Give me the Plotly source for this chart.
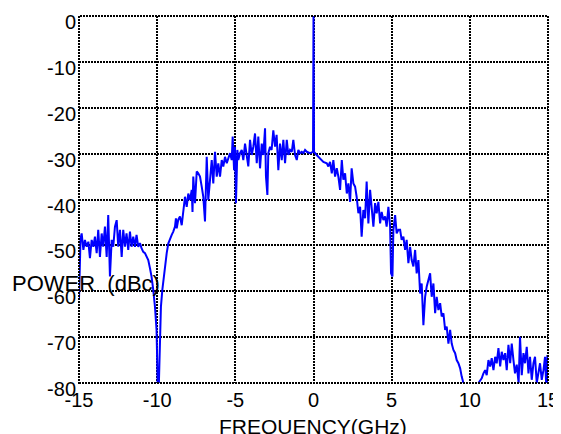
import plotly.graph_objects as go

freq = [
    -15.00, -14.97, -14.94, -14.90,
    -14.83, -14.72, -14.62, -14.51, -14.40, -14.30, -14.19, -14.08, -13.98, -13.87,
    -13.77, -13.66, -13.55, -13.45, -13.34, -13.23, -13.13, -13.02, -12.91, -12.81,
    -12.70, -12.59, -12.49, -12.38, -12.27, -12.17, -12.06, -11.96, -11.85, -11.74,
    -11.64, -11.53, -11.42, -11.32, -11.21, -11.10, -11.00, -10.89, -10.78, -10.68,
    -10.57, -10.46, -10.36, -10.25, -10.14, -10.04, -9.97, -9.89, -9.82, -9.76, -9.67,
    -9.60, -9.50, -9.39, -9.29, -9.18, -9.07, -8.97, -8.86, -8.80, -8.75, -8.65, -8.54,
    -8.43, -8.33, -8.22, -8.11, -8.01, -7.90, -7.79, -7.74, -7.69, -7.58, -7.47, -7.37,
    -7.26, -7.15, -7.05, -6.94, -6.83, -6.73, -6.62, -6.51, -6.41, -6.30, -6.19, -6.09,
    -5.98, -5.87, -5.77, -5.66, -5.55, -5.45, -5.34, -5.23, -5.17, -5.08, -5.02, -4.96,
    -4.87, -4.81, -4.70, -4.59, -4.49, -4.38, -4.27, -4.17, -4.06, -3.95, -3.85, -3.74,
    -3.63, -3.53, -3.42, -3.31, -3.21, -3.10, -3.04, -2.95, -2.89, -2.78, -2.68, -2.57,
    -2.46, -2.36, -2.25, -2.14, -2.03, -1.93, -1.82, -1.71, -1.61, -1.50, -1.39, -1.29,
    -1.18, -1.07, -0.97, -0.86, -0.75, -0.65, -0.54, -0.43, -0.22, -0.03, 0.00, 0.035,
    0.20, 0.42, 0.63, 0.85, 0.95, 1.06, 1.17, 1.27, 1.38, 1.49, 1.59, 1.70, 1.81, 1.91,
    2.02, 2.13, 2.23, 2.34, 2.44, 2.55, 2.66, 2.76, 2.87, 2.98, 3.08, 3.19, 3.30, 3.40,
    3.51, 3.62, 3.72, 3.83, 3.94, 4.04, 4.15, 4.26, 4.36, 4.47, 4.58, 4.68, 4.79, 4.90,
    4.96, 5.05, 5.11, 5.22, 5.32, 5.43, 5.54, 5.64, 5.75, 5.86, 5.96, 6.07, 6.18, 6.28,
    6.39, 6.50, 6.60, 6.71, 6.82, 6.92, 7.03, 7.14, 7.24, 7.35, 7.46, 7.56, 7.67, 7.78,
    7.88, 7.99, 8.10, 8.20, 8.31, 8.42, 8.52, 8.63, 8.74, 8.84, 8.95, 9.06, 9.16, 9.27,
    9.38, 9.48, 9.59, 10.0,
    10.55, 10.76, 10.87, 10.98, 11.08, 11.19, 11.30, 11.40, 11.51, 11.62, 11.72, 11.83,
    11.94, 12.04, 12.15, 12.26, 12.36, 12.47, 12.58, 12.68, 12.79, 12.89, 13.00, 13.12,
    13.21, 13.32, 13.43, 13.53, 13.64, 13.75, 13.85, 13.96, 14.07, 14.17, 14.28, 14.39,
    14.49, 14.60, 14.71, 14.81, 14.88, 14.96, 15.00,
]

power = [
    -61.5, -56.0, -50.5, -48.5,
    -47.4, -51.0, -48.8, -50.3, -49.2, -52.8, -48.8, -50.3, -48.1, -51.7,
    -46.6, -52.5, -47.4, -50.3, -45.9, -52.5, -43.4, -56.8, -48.8, -50.3,
    -45.9, -44.5, -50.3, -46.6, -52.5, -46.6, -50.3, -47.4, -51.0, -47.0,
    -50.3, -48.1, -50.3, -47.7, -50.3, -49.5, -50.6, -51.4, -51.7, -52.5,
    -53.2, -55.0, -56.8, -59.7, -63.4, -68.4, -80.0, -80.0, -68.4, -63.4, -59.7,
    -57.5, -54.6, -51.7, -49.6, -48.5, -47.7, -47.0, -45.9, -44.1, -46.3, -44.4, -43.7,
    -45.6, -42.3, -39.4, -41.6, -38.7, -40.1, -37.9, -42.7, -35.0, -40.8, -33.9, -34.3,
    -35.0, -37.2, -39.4, -44.8, -30.7, -40.1, -35.7, -31.4, -36.5, -29.6, -35.0, -32.1,
    -35.0, -31.4, -32.8, -30.7, -32.1, -31.0, -29.9, -31.4, -26.3, -33.6, -28.5, -40.8,
    -29.2, -31.4, -29.9, -29.2, -31.4, -27.8, -30.3, -32.8, -27.0, -30.3, -28.5, -25.6,
    -32.1, -26.3, -33.2, -27.8, -30.3, -24.5, -35.0, -39.0, -29.9, -28.5, -29.2, -24.9,
    -28.5, -25.9, -33.6, -27.8, -31.4, -27.0, -32.1, -27.0, -30.3, -29.2, -29.6, -27.0,
    -30.3, -31.4, -29.2, -29.9, -29.6, -29.9, -29.2, -29.6, -29.9, -29.6, 0.0, -29.6,
    -30.3, -31.0, -31.8, -32.1, -32.8, -31.8, -34.3, -31.4, -35.0, -33.2, -35.0, -37.9, -31.4, -35.7,
    -34.3, -38.7, -36.5, -40.5, -33.2, -36.5, -37.2, -39.4, -43.0, -41.6, -48.1, -42.3, -44.1, -36.1,
    -45.2, -37.9, -41.6, -45.9, -40.8, -43.0, -40.5, -45.2, -42.7, -44.5, -43.7, -45.9, -41.6, -45.9,
    -56.1, -56.8, -46.6, -43.4, -47.4, -46.6, -46.6, -48.8, -48.1, -51.0, -48.8, -53.9, -50.3, -53.2,
    -54.6, -51.0, -56.1, -53.2, -60.5, -58.3, -67.4, -61.2, -59.0, -57.5, -56.1, -61.2, -58.3, -64.8,
    -61.2, -64.1, -62.6, -65.5, -64.8, -68.4, -67.7, -71.4, -68.4, -71.4, -72.8, -73.5, -75.0, -75.7,
    -76.8, -78.6, -80.0, None,
    -80.0, -79.0, -77.9, -77.2, -78.3, -75.0, -76.4, -74.6, -77.2, -74.3, -75.7, -72.4,
    -76.4, -73.2, -75.0, -73.5, -77.2, -71.7, -75.7, -71.4, -75.0, -77.9, -76.0, -80.0,
    -69.9, -78.3, -73.5, -75.7, -72.1, -77.9, -74.3, -79.3, -75.7, -74.3, -80.0, -77.2,
    -75.7, -79.3, -77.2, -74.3, -80.0, -73.9, -80.0,
]

x_ticks = [-15, -10, -5, 0, 5, 10, 15]
y_ticks = [0, -10, -20, -30, -40, -50, -60, -70, -80]

FONT = "Liberation Sans, Arial, sans-serif"

fig = go.Figure()
fig.add_trace(go.Scatter(
    x=freq, y=power, mode="lines",
    line=dict(color="#0000FF", width=2),
    connectgaps=False, hoverinfo="skip", showlegend=False,
))

axis_common = dict(
    showgrid=True, gridcolor="black", griddash="2px,1px", gridwidth=2,
    zeroline=False, showline=False, ticks="", automargin=False,
    tickfont=dict(family=FONT, size=20, color="black"),
)

fig.update_layout(
    template="none",
    width=553, height=426,
    margin=dict(l=71, r=13, t=8, b=51, pad=0),
    paper_bgcolor="white", plot_bgcolor="white",
    xaxis=dict(range=[-15, 15], tickvals=x_ticks, ticktext=[str(v) for v in x_ticks],
               ticklabelstandoff=3, **axis_common),
    yaxis=dict(range=[-80, 0], tickvals=y_ticks, ticktext=[str(v) for v in y_ticks],
               ticklabelshift=6, ticklabelstandoff=2, **axis_common),
    shapes=[dict(type="rect", xref="paper", yref="paper", x0=0, y0=0, x1=1, y1=1,
                 line=dict(color="black", width=2, dash="2px,1px"), layer="above")],
    annotations=[
        dict(text="POWER\u00a0\u00a0(dBc)", xref="paper", yref="paper",
             x=0.0139, y=0.270, xanchor="center", yanchor="middle", showarrow=False,
             font=dict(family=FONT, size=22, color="black")),
        dict(text="FREQUENCY(GHz)", xref="paper", yref="paper",
             x=0.499, y=-0.1198, xanchor="center", yanchor="middle", showarrow=False,
             font=dict(family=FONT, size=21, color="black")),
    ],
)

fig.write_html("out.html")
